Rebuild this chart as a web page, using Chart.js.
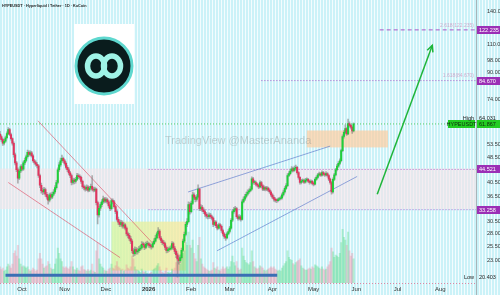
<!DOCTYPE html>
<html lang="en">
<head>
<meta charset="UTF-8">
<title>HYPEUSDT 1D</title>
<script src="https://cdn.jsdelivr.net/npm/chart.js"></script>
<style>
  html, body { margin: 0; padding: 0; }
  body {
    width: 500px; height: 295px; overflow: hidden;
    background: repeating-linear-gradient(90deg, #cbf2f8 0px, #cbf2f8 2px, #f3fcfe 2px, #f3fcfe 3px);
    font-family: 'Liberation Sans', Arial, sans-serif;
  }
  canvas { display: block; }
</style>
</head>
<body>
<canvas id="chart" width="500" height="295"></canvas>
<script>
// daily candles, day 0 = 15 Sep 2025
const firstOpen = 57.5;
const closes = [
  56.5,55.2,53.8,54.6,56.0,57.7,59.4,57.3,55.6,53.8,
  49.5,46.7,44.4,41.8,44.0,45.4,44.6,46.7,47.5,48.8,
  50.4,49.6,50.2,49.1,47.4,46.8,46.2,45.7,42.6,39.7,
  38.2,37.8,38.5,37.2,36.5,35.6,37.0,36.4,37.2,37.8,
  39.0,40.5,44.4,46.0,47.4,48.2,47.4,46.5,45.2,44.4,
  43.4,42.6,40.5,41.2,40.8,41.4,42.6,42.2,42.0,40.8,
  39.3,39.0,38.6,39.2,38.3,38.9,39.4,38.6,38.3,38.6,
  35.0,32.0,33.6,34.5,35.2,36.0,35.4,35.8,35.2,34.2,
  33.5,35.5,35.2,34.0,32.8,31.0,30.4,29.9,30.3,29.5,
  29.8,29.1,27.9,27.6,27.0,26.5,24.7,24.2,24.9,24.5,
  24.7,25.0,25.2,25.9,25.8,25.3,25.9,26.0,25.7,25.6,
  25.4,26.0,26.5,27.1,27.9,28.5,27.1,26.6,26.2,26.0,
  25.3,24.7,24.9,25.0,25.2,26.0,25.2,24.6,24.0,23.3,
  23.0,23.5,24.8,26.5,27.8,29.9,30.5,34.5,32.8,34.8,
  37.0,36.4,35.8,36.5,38.6,33.5,33.9,33.2,32.8,32.2,
  31.8,31.6,32.0,31.6,31.3,29.9,30.4,29.6,29.1,29.8,
  29.5,28.6,27.9,27.4,27.1,27.9,28.4,29.1,30.8,32.8,
  33.2,33.5,31.6,31.2,31.6,31.0,35.2,35.9,36.6,37.2,
  37.8,38.1,38.6,41.6,40.5,40.5,40.0,39.7,39.2,40.5,
  39.5,38.6,39.0,38.6,38.9,38.3,37.8,37.0,36.4,35.9,
  35.6,35.5,35.8,36.0,36.2,37.0,37.8,38.8,39.6,42.6,
  43.2,44.0,44.7,44.2,44.9,45.2,43.5,42.0,40.5,40.9,
  41.0,40.6,41.2,41.4,40.9,40.5,40.8,40.2,40.0,41.4,
  42.0,42.8,43.1,42.7,43.5,43.0,42.8,43.2,42.6,41.5,
  40.5,37.8,41.4,42.8,44.4,45.6,46.5,47.4,51.0,56.5,
  58.2,59.8,57.6,62.0,61.2,60.4,58.8,61.867
];
const highs = [
  58.6,57.2,55.8,55.3,56.7,58.4,60.3,59.9,57.9,56.0,
  54.4,50.1,47.2,45.0,44.6,46.0,46.1,47.3,48.3,49.4,
  51.2,50.9,50.9,50.7,49.6,47.9,47.4,46.8,46.1,43.0,
  40.3,38.9,39.1,38.9,37.7,37.0,37.5,37.6,37.8,38.5,
  39.6,41.1,45.0,46.8,48.3,49.4,48.7,47.9,47.0,45.8,
  45.0,43.9,43.0,41.8,41.7,42.0,43.3,43.1,42.8,42.4,
  41.2,39.8,39.5,39.8,39.6,39.4,40.0,42.6,39.1,39.2,
  38.9,35.4,34.1,35.0,35.8,36.7,36.4,36.3,36.2,35.6,
  34.6,36.0,36.0,35.6,34.4,33.2,31.5,30.9,30.8,30.7,
  30.3,30.1,29.4,28.3,28.0,27.4,26.8,25.1,25.4,25.3,
  25.2,25.5,25.7,26.4,26.3,26.1,26.3,26.5,26.3,26.1,
  25.9,26.4,27.0,27.6,28.3,29.2,28.8,27.4,26.9,26.6,
  26.3,25.6,25.3,25.4,25.6,26.4,26.3,25.5,24.9,24.3,
  23.8,24.0,25.2,26.9,28.3,30.4,31.2,35.2,35.0,35.4,
  37.8,37.6,36.8,37.1,39.8,38.9,34.5,34.3,33.7,33.2,
  32.6,32.2,32.5,32.4,32.0,31.6,30.8,30.7,29.9,30.2,
  30.1,29.8,28.9,28.2,27.8,28.3,28.8,29.5,31.2,33.3,
  33.8,34.1,33.8,32.0,32.1,31.9,35.7,36.5,37.2,37.8,
  38.4,38.7,39.3,42.2,42.0,41.1,40.9,40.4,40.1,41.0,
  40.8,39.9,39.5,39.4,39.4,39.2,38.7,38.1,37.4,36.8,
  36.3,36.0,36.2,36.4,36.7,37.5,38.3,39.3,40.2,43.2,
  43.8,44.6,45.4,45.2,45.6,45.9,45.5,43.8,42.3,41.4,
  41.6,41.4,41.7,41.9,41.7,41.2,41.3,41.1,40.6,41.9,
  42.5,43.3,43.7,43.5,44.1,43.9,43.4,43.8,43.5,42.9,
  41.8,40.8,41.9,43.3,44.9,46.2,47.1,48.1,51.6,57.2,
  59.0,61.5,60.3,64.031,62.8,61.7,60.9,62.4
];
const lows = [
  55.6,54.5,53.0,53.2,54.1,55.5,57.2,56.8,55.0,53.1,
  48.6,46.0,43.8,40.3,41.3,43.5,44.0,44.2,46.1,47.0,
  48.3,49.0,49.1,48.6,46.9,46.2,45.6,45.0,42.0,39.0,
  37.5,37.1,37.3,36.6,35.9,34.6,35.2,35.9,36.0,36.8,
  37.4,38.6,40.1,43.9,45.5,46.9,46.8,45.9,44.6,43.8,
  42.8,41.9,39.8,40.0,40.1,40.3,41.0,41.6,41.4,40.2,
  38.8,38.4,38.0,38.2,37.8,37.9,38.5,38.1,37.8,37.9,
  34.4,30.0,31.5,33.1,34.0,34.8,34.9,35.0,34.7,33.7,
  33.0,33.2,34.7,33.6,32.3,30.6,29.9,29.4,29.5,29.1,
  29.1,28.7,27.5,27.1,26.6,26.0,24.3,23.7,23.9,24.1,
  24.1,24.4,24.7,25.0,25.4,24.9,25.1,25.6,25.3,25.2,
  25.0,25.2,25.8,26.3,26.9,27.6,26.8,26.2,25.8,25.6,
  24.9,24.3,24.4,24.6,24.8,25.0,24.9,24.2,23.5,20.403,
  22.4,22.7,23.3,24.6,26.2,27.5,29.4,30.2,32.2,32.5,
  34.5,35.8,35.2,35.4,36.2,33.0,33.0,32.8,32.3,31.7,
  31.3,31.1,31.2,31.2,30.9,29.4,29.6,29.2,28.7,28.9,
  29.1,28.2,27.5,27.0,26.6,26.9,27.7,28.1,28.9,30.5,
  32.4,32.9,31.2,30.8,30.9,30.6,30.8,34.9,35.5,36.2,
  36.9,37.4,37.8,38.3,40.0,39.9,39.5,39.2,38.7,38.9,
  39.0,38.2,38.2,38.1,38.2,37.9,37.4,36.6,36.0,35.4,
  35.2,35.0,35.2,35.5,35.7,35.9,36.7,37.5,38.5,39.3,
  42.2,42.8,43.6,43.7,43.9,44.5,43.0,41.5,40.0,40.1,
  40.5,40.2,40.3,40.9,40.5,40.0,40.2,39.8,39.5,39.8,
  41.1,41.7,42.5,42.3,42.4,42.6,42.3,42.5,42.1,41.0,
  40.0,37.2,37.5,41.0,42.5,44.0,45.2,46.1,47.0,50.6,
  55.8,57.6,56.9,57.2,60.4,59.6,57.8,58.4
];
// relative daily volume
const volumes = [
  30,25,28,22,24,30,35,32,28,35,
  55,60,50,70,45,35,30,32,30,28,
  30,25,22,24,28,25,22,24,45,55,
  45,35,28,30,32,40,35,28,25,26,
  35,45,65,55,45,40,30,28,30,28,
  26,30,40,30,25,24,28,24,22,30,
  32,25,24,22,25,22,24,35,22,20,
  60,75,45,35,30,28,24,22,22,26,
  28,35,28,26,32,40,30,28,24,26,
  22,24,34,28,26,30,50,45,30,25,
  24,22,20,26,22,20,22,18,16,18,
  20,24,26,28,32,36,30,24,20,18,
  22,28,20,18,20,26,24,28,38,60,
  40,35,45,55,60,75,70,95,70,65,
  80,55,45,40,70,85,45,35,30,28,
  26,24,22,22,24,38,28,26,30,24,
  22,26,30,26,28,30,26,30,40,50,
  38,32,40,28,24,26,65,50,42,38,
  36,34,38,60,40,30,28,26,28,32,
  30,28,24,22,24,26,28,30,28,30,
  26,24,22,24,22,28,32,36,40,60,
  48,44,42,36,34,38,40,42,45,32,
  28,26,24,24,26,28,26,30,28,34,
  32,30,28,26,30,26,24,26,30,34,
  40,65,58,48,52,50,48,55,75,100,
  85,80,70,95,60,50,55,45
];

const monthDays = [16, 47, 77, 108, 139, 167, 198, 228, 259, 289, 320];
const monthLabels = ['Oct', 'Nov', 'Dec', '2026', 'Feb', 'Mar', 'Apr', 'May', 'Jun', 'Jul', 'Aug'];
const priceTicks = [140, 110, 98, 90, 74, 53.5, 48.5, 40.5, 36.5, 33, 30.5, 28, 25.5, 23];

const targetLevel = 122.235;
const fibLevel = 84.670;
const supportTop = 44.521;
const supportLow = 33.258;
const lastPrice = 61.867;
const highPrice = 64.031;
const lowPrice = 20.403;

// build candle parts
const opens = closes.map((c, i) => i === 0 ? firstOpen : closes[i - 1]);
const bodies = closes.map((c, i) => ({ x: i, y: [opens[i], c] }));
const wicks = closes.map((c, i) => ({ x: i, y: [lows[i], highs[i]] }));
const vols = volumes.map((v, i) => ({ x: i, y: v }));
const bodyColors = closes.map((c, i) => c >= opens[i] ? '#1fcf3a' : '#e0355f');
const volColors = closes.map((c, i) => c >= opens[i] ? 'rgba(70,215,120,0.32)' : 'rgba(240,110,140,0.28)');

const overlay = {
  id: 'overlay',
  beforeDatasetsDraw(chart) {
    const { ctx, chartArea: a, scales: { x, y } } = chart;
    const X = v => x.getPixelForValue(v), Y = v => y.getPixelForValue(v);
    ctx.save();
    ctx.beginPath();
    ctx.rect(a.left, a.top, a.right - a.left, a.bottom - a.top);
    ctx.clip();

    // support zone band
    ctx.fillStyle = 'rgba(246,226,232,0.6)';
    ctx.fillRect(a.left, Y(44.8), a.right - a.left, Y(33.4) - Y(44.8));

    // accumulation box
    const g = ctx.createLinearGradient(X(81), 0, X(135), 0);
    g.addColorStop(0, 'rgba(215,245,160,0.8)');
    g.addColorStop(1, 'rgba(250,232,160,0.8)');
    ctx.fillStyle = g;
    ctx.fillRect(X(81), Y(30.5), X(135) - X(81), Y(21.4) - Y(30.5));

    // resistance box
    ctx.fillStyle = 'rgba(252,205,160,0.7)';
    ctx.fillRect(X(223), Y(59.0), X(282) - X(223), Y(52.2) - Y(59.0));

    // watermark
    ctx.fillStyle = 'rgba(120,120,120,0.33)';
    ctx.font = '11px "Liberation Sans", Arial, sans-serif';
    ctx.textBaseline = 'middle';
    ctx.fillText('TradingView @MasterAnanda', 165, 141);

    // dotted levels
    ctx.lineWidth = 1;
    ctx.setLineDash([1, 2]);
    ctx.strokeStyle = 'rgba(160,60,190,0.8)';
    [[supportTop, 108], [supportLow, 108], [fibLevel, 190]].forEach(([p, d]) => {
      ctx.beginPath(); ctx.moveTo(X(d), Y(p)); ctx.lineTo(a.right, Y(p)); ctx.stroke();
    });
    ctx.strokeStyle = 'rgba(40,190,40,0.7)';
    ctx.beginPath(); ctx.moveTo(a.left, Y(lastPrice)); ctx.lineTo(a.right, Y(lastPrice)); ctx.stroke();
    ctx.setLineDash([4, 3]);
    ctx.strokeStyle = 'rgba(160,60,190,0.85)';
    ctx.beginPath(); ctx.moveTo(X(276), Y(targetLevel)); ctx.lineTo(a.right, Y(targetLevel)); ctx.stroke();
    ctx.setLineDash([]);

    // channel lines
    ctx.lineWidth = 0.8;
    ctx.strokeStyle = 'rgba(220,70,95,0.75)';
    [[27.6, 63.3, 111.3, 26.0], [6, 40.5, 87.3, 23.5]].forEach(([d1, p1, d2, p2]) => {
      ctx.beginPath(); ctx.moveTo(X(d1), Y(p1)); ctx.lineTo(X(d2), Y(p2)); ctx.stroke();
    });
    ctx.strokeStyle = 'rgba(80,110,200,0.75)';
    [[136.7, 37.8, 240, 52.7], [157.8, 24.7, 259.6, 42.3]].forEach(([d1, p1, d2, p2]) => {
      ctx.beginPath(); ctx.moveTo(X(d1), Y(p1)); ctx.lineTo(X(d2), Y(p2)); ctx.stroke();
    });
    ctx.restore();
  },
  afterDatasetsDraw(chart) {
    const { ctx, chartArea: a, scales: { x, y } } = chart;
    const X = v => x.getPixelForValue(v), Y = v => y.getPixelForValue(v);
    ctx.save();
    // blue base line
    ctx.strokeStyle = '#3a6fb4';
    ctx.lineWidth = 3;
    ctx.beginPath(); ctx.moveTo(X(4), Y(20.7)); ctx.lineTo(X(201.5), Y(20.7)); ctx.stroke();

    // target arrow
    const x1 = X(274.2), y1 = Y(37.2), x2 = X(314.2), y2 = Y(109.2);
    ctx.strokeStyle = '#1fb53a';
    ctx.lineWidth = 1.5;
    ctx.beginPath(); ctx.moveTo(x1, y1); ctx.lineTo(x2, y2); ctx.stroke();
    const ang = Math.atan2(y2 - y1, x2 - x1);
    ctx.beginPath();
    ctx.moveTo(x2 - 7 * Math.cos(ang - 0.45), y2 - 7 * Math.sin(ang - 0.45));
    ctx.lineTo(x2, y2);
    ctx.lineTo(x2 - 7 * Math.cos(ang + 0.45), y2 - 7 * Math.sin(ang + 0.45));
    ctx.stroke();

    // fib captions
    ctx.fillStyle = 'rgba(200,110,170,0.55)';
    ctx.font = '5px "Liberation Sans", Arial, sans-serif';
    ctx.textAlign = 'right';
    ctx.textBaseline = 'middle';
    ctx.fillText('2.618(122.235)', a.right - 2, Y(targetLevel) - 4);
    ctx.fillText('1.618(84.670)', a.right - 2, Y(fibLevel) - 5);
    ctx.restore();
  },
  afterDraw(chart) {
    const { ctx, chartArea: a, scales: { x, y } } = chart;
    const X = v => x.getPixelForValue(v), Y = v => y.getPixelForValue(v);
    ctx.save();
    // axis separator
    ctx.strokeStyle = '#a9b4b8';
    ctx.lineWidth = 1;
    ctx.beginPath(); ctx.moveTo(a.right + 0.5, 0); ctx.lineTo(a.right + 0.5, 295); ctx.stroke();
    // bottom dotted line
    ctx.strokeStyle = 'rgba(225,90,130,0.7)';
    ctx.setLineDash([1, 2]);
    ctx.beginPath(); ctx.moveTo(0, a.bottom + 0.5); ctx.lineTo(a.right, a.bottom + 0.5); ctx.stroke();
    ctx.setLineDash([]);

    // month labels
    ctx.fillStyle = '#333';
    ctx.textAlign = 'center';
    ctx.textBaseline = 'middle';
    monthDays.forEach((d, i) => {
      ctx.font = (monthLabels[i] === '2026' ? 'bold ' : '') + '6px "Liberation Sans", Arial, sans-serif';
      ctx.fillText(monthLabels[i], X(d), a.bottom + 6);
    });

    ctx.font = '5.5px "Liberation Sans", Arial, sans-serif';
    const tag = (p, fill, txt, color) => {
      const yy = Math.round(Y(p));
      ctx.fillStyle = fill;
      ctx.fillRect(a.right + 1, yy - 4, 500 - a.right - 1, 8);
      ctx.fillStyle = color;
      ctx.textAlign = 'left';
      ctx.fillText(txt, a.right + 3, yy + 0.5);
    };
    tag(targetLevel, '#9b2fb6', targetLevel.toFixed(3), '#fff');
    tag(fibLevel, '#9b2fb6', fibLevel.toFixed(3), '#fff');
    tag(supportTop, '#9b2fb6', supportTop.toFixed(3), '#fff');
    tag(supportLow, '#9b2fb6', supportLow.toFixed(3), '#fff');
    tag(lastPrice, '#22cc22', lastPrice.toFixed(3), '#0d2a0d');
    // symbol tag left of axis
    const ly = Math.round(Y(lastPrice));
    ctx.fillStyle = '#22cc22';
    ctx.fillRect(a.right - 28, ly - 4, 27, 8);
    ctx.fillStyle = '#0d2a0d';
    ctx.textAlign = 'center';
    ctx.fillText('HYPEUSDT', a.right - 14.5, ly + 0.5);
    // high / low
    ctx.fillStyle = '#222';
    ctx.textAlign = 'right';
    ctx.fillText('High', a.right - 2, Y(highPrice) - 1);
    ctx.fillText('Low', a.right - 2, Y(lowPrice));
    ctx.textAlign = 'left';
    ctx.fillText(highPrice.toFixed(3), a.right + 3, Y(highPrice) - 1);
    ctx.fillText(lowPrice.toFixed(3), a.right + 3, Y(lowPrice));

    // title
    ctx.fillStyle = '#222';
    ctx.font = 'bold 3.8px "Liberation Sans", Arial, sans-serif';
    ctx.textAlign = 'left';
    ctx.fillText('HYPEUSDT · Hyperliquid / Tether · 1D · KuCoin', 2, 6);

    // logo
    const cx = 104, cy = 66, r = 28;
    ctx.fillStyle = '#ffffff';
    ctx.fillRect(74, 24, 60, 80);
    ctx.beginPath(); ctx.arc(cx, cy, r, 0, Math.PI * 2);
    ctx.fillStyle = '#0a1c1d'; ctx.fill();
    ctx.lineWidth = 3; ctx.strokeStyle = '#5fd8cf'; ctx.stroke();
    ctx.strokeStyle = '#9ff3e6';
    ctx.lineWidth = 5.5;
    ctx.beginPath(); ctx.ellipse(cx - 8, cy, 8.5, 10, 0, 0, Math.PI * 2); ctx.stroke();
    ctx.beginPath(); ctx.ellipse(cx + 8, cy, 8.5, 10, 0, 0, Math.PI * 2); ctx.stroke();
    ctx.restore();
  }
};

new Chart(document.getElementById('chart'), {
  type: 'bar',
  data: {
    datasets: [
      { data: vols, xAxisID: 'x', yAxisID: 'vol', backgroundColor: volColors, barThickness: 1.4, grouped: false, order: 3 },
      { data: wicks, xAxisID: 'x', yAxisID: 'y', backgroundColor: 'rgba(120,120,120,0.55)', barThickness: 1, grouped: false, order: 2 },
      { data: bodies, xAxisID: 'x', yAxisID: 'y', backgroundColor: bodyColors, barThickness: 1.4, minBarLength: 1, grouped: false, order: 1 }
    ]
  },
  options: {
    responsive: false,
    animation: false,
    layout: { padding: 0 },
    plugins: { legend: { display: false }, tooltip: { enabled: false } },
    scales: {
      x: {
        type: 'linear',
        min: 0,
        max: 346,
        offset: false,
        grid: { display: false },
        border: { display: false },
        ticks: { display: false },
        afterFit: s => { s.height = 12; }
      },
      y: {
        type: 'logarithmic',
        position: 'right',
        min: 19.56,
        max: 145,
        bounds: 'data',
        grid: { display: false },
        border: { display: false },
        afterFit: s => { s.width = 24; },
        afterBuildTicks: s => { s.ticks = priceTicks.map(v => ({ value: v })); },
        ticks: {
          autoSkip: false, padding: 3, color: '#333',
          font: { size: 5.5, family: '"Liberation Sans", Arial, sans-serif' },
          callback: v => Number(v).toFixed(3)
        }
      },
      vol: {
        type: 'linear',
        axis: 'y',
        display: false,
        min: 0,
        max: 515
      }
    }
  },
  plugins: [overlay]
});
</script>
</body>
</html>
